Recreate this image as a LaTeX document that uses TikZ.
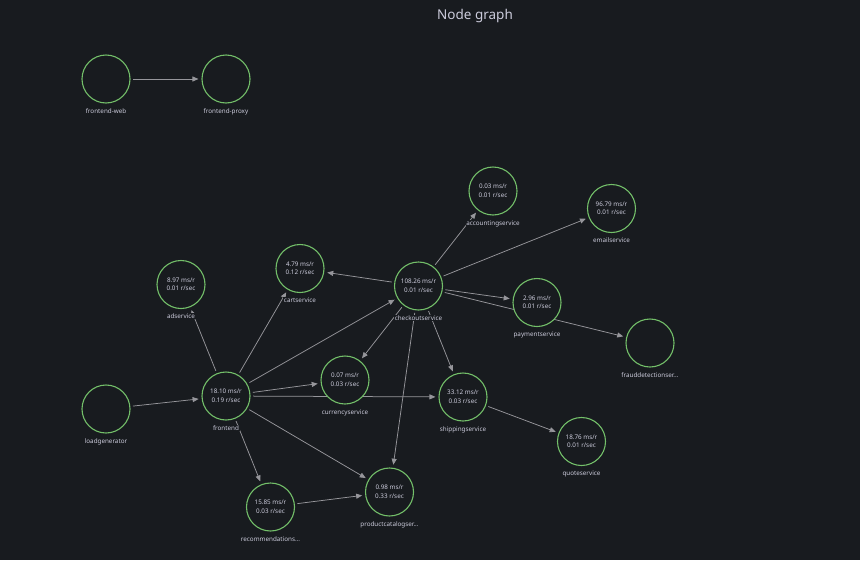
\documentclass[tikz,border=0pt]{standalone}
\usepackage{fontspec}
\setmainfont{Noto Sans}
\usetikzlibrary{arrows.meta,calc}
\definecolor{bgc}{RGB}{24,27,31}
\definecolor{ring}{RGB}{115,191,105}
\definecolor{txt}{RGB}{204,204,220}
\definecolor{edgec}{RGB}{150,150,155}
\pgfdeclarelayer{bgrect}
\pgfdeclarelayer{edges}
\pgfsetlayers{bgrect,edges,main}
\tikzset{
  svc/.style={circle,draw=ring,line width=1.1pt,fill=bgc,minimum size=48pt,inner sep=0pt,
    text=txt,font=\fontsize{6.3}{8.5}\selectfont,align=center},
  lab/.style={text=txt,font=\fontsize{6.3}{7.5}\selectfont,fill=bgc,inner sep=0.6pt,anchor=base},
  conn/.style={draw=edgec,line width=0.75pt,-{Triangle[length=6pt,width=5pt]},shorten <=2.5pt,shorten >=3pt},
  ttl/.style={text=txt,font=\fontsize{13.5}{15}\selectfont}
}
\newcommand{\svcnode}[6]{%
  \node[svc] (#1) at (#2,#3) {#4\\#5};
  \node[lab] (#1-l) at ($(#1)+(0,34)$) {#6};
}
\begin{document}
\begin{tikzpicture}[x=1pt,y=-1pt]
\begin{pgfonlayer}{bgrect}
\fill[bgc] (0,0) rectangle (860,560);
\end{pgfonlayer}
\useasboundingbox (0,0) rectangle (860,560);
\node[ttl] (title) at (475,16) {Node graph};

\svcnode{web}{106}{79}{}{}{frontend-web}
\svcnode{proxy}{226}{79}{}{}{frontend-proxy}
\svcnode{acct}{493}{191}{0.03 ms/r}{0.01 r/sec}{accountingservice}
\svcnode{email}{611.5}{208.5}{96.79 ms/r}{0.01 r/sec}{emailservice}
\svcnode{cart}{300}{268.5}{4.79 ms/r}{0.12 r/sec}{cartservice}
\svcnode{ad}{181}{284.5}{8.97 ms/r}{0.01 r/sec}{adservice}
\svcnode{checkout}{418.5}{286}{108.26 ms/r}{0.01 r/sec}{checkoutservice}
\svcnode{pay}{537}{302.5}{2.96 ms/r}{0.01 r/sec}{paymentservice}
\svcnode{fraud}{650}{343}{}{}{frauddetectionser...}
\svcnode{load}{106}{409}{}{}{loadgenerator}
\svcnode{front}{226}{396}{18.10 ms/r}{0.19 r/sec}{frontend}
\svcnode{curr}{345}{380}{0.07 ms/r}{0.03 r/sec}{currencyservice}
\svcnode{ship}{463}{397}{33.12 ms/r}{0.03 r/sec}{shippingservice}
\svcnode{quote}{581.5}{441.5}{18.76 ms/r}{0.01 r/sec}{quoteservice}
\svcnode{rec}{270.5}{507}{15.85 ms/r}{0.03 r/sec}{recommendations...}
\svcnode{cat}{389.5}{492}{0.98 ms/r}{0.33 r/sec}{productcatalogser...}

\begin{pgfonlayer}{edges}
\draw[conn] (web) -- (proxy);
\draw[conn] (load) -- (front);
\draw[conn] (front) -- (ad);
\draw[conn] (front) -- (cart);
\draw[conn] (front) -- (checkout);
\draw[conn] (front) -- (curr);
\draw[conn] (front) -- (ship);
\draw[conn] (front) -- (cat);
\draw[conn] (front) -- (rec);
\draw[conn] (rec) -- (cat);
\draw[conn] (checkout) -- (cart);
\draw[conn] (checkout) -- (curr);
\draw[conn] (checkout) -- (cat);
\draw[conn] (checkout) -- (ship);
\draw[conn] (checkout) -- (pay);
\draw[conn] (checkout) -- (email);
\draw[conn] (checkout) -- (acct);
\draw[conn] (checkout) -- (fraud);
\draw[conn] (ship) -- (quote);
\end{pgfonlayer}
\end{tikzpicture}
\end{document}
